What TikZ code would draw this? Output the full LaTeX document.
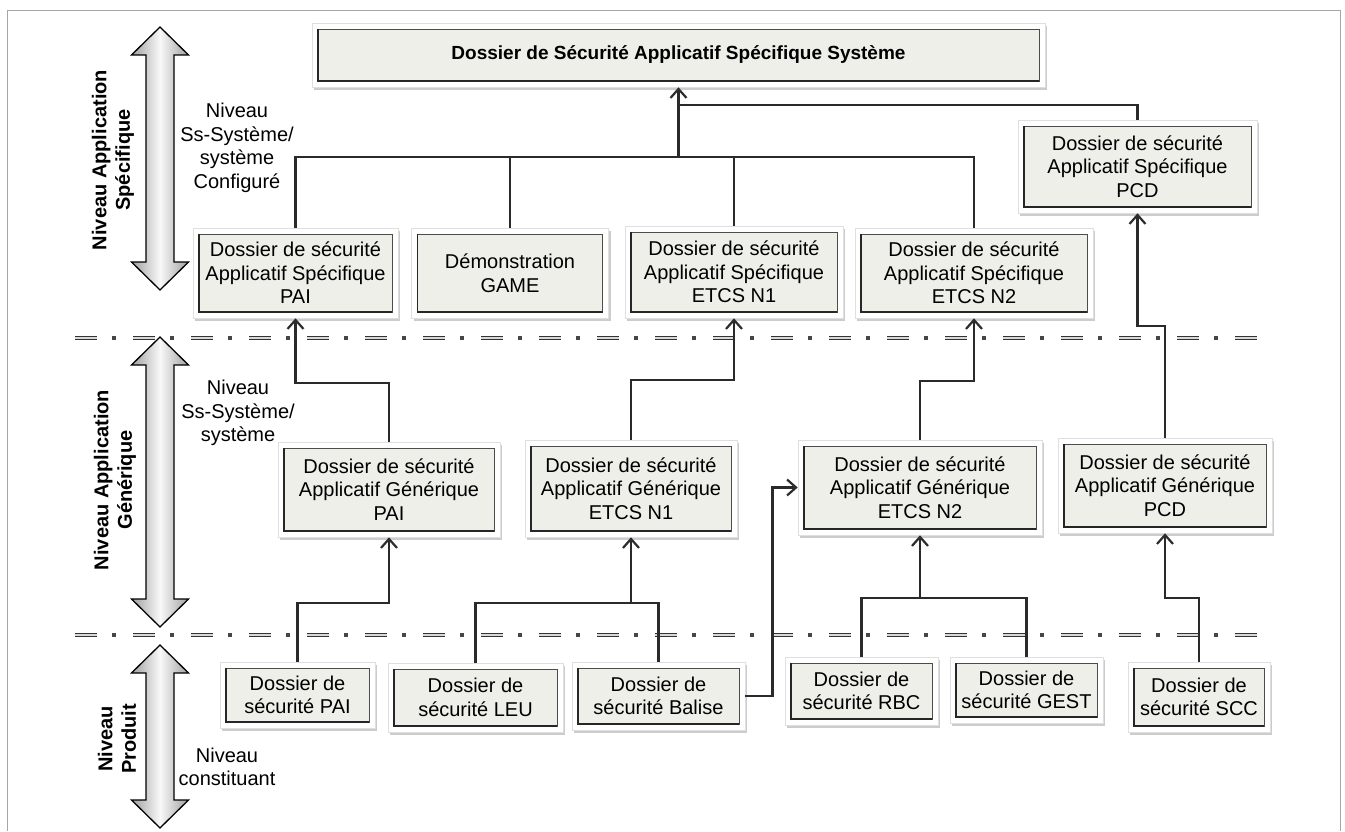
\documentclass[tikz,border=0pt]{standalone}
\usepackage{fontspec}
\setmainfont{Liberation Sans}
\usetikzlibrary{arrows.meta,shadows}
\definecolor{boxfill}{HTML}{EDEFE8}
\definecolor{linegray}{HTML}{2A2A2A}
\tikzset{
  box/.style={fill=white, draw=gray!25, line width=0.6pt, inner sep=0pt, align=center,
    font=\fontsize{20}{23.5}\selectfont,
    drop shadow={shadow xshift=2pt, shadow yshift=-3pt, fill=gray!80, opacity=0.5},
    path picture={\draw[fill=boxfill, draw=gray!60!black, line width=0.8pt]
      ([shift={(6pt,-6pt)}]path picture bounding box.north west) rectangle
      ([shift={(-6pt,6pt)}]path picture bounding box.south east);
      \draw[gray!30!black, line width=1.6pt]
      ([shift={(6pt,-6pt)}]path picture bounding box.north west) |-
      ([shift={(-6pt,6pt)}]path picture bounding box.south east);}},
  line/.style={draw=linegray, line width=2.4pt},
  arrow/.style={line, -{Straight Barb[length=9pt,width=16pt,line width=2.2pt,color=gray!35!black]}},
  levelline/.style={line width=0.7pt, draw=black!80, double=gray!30, double distance=2.4pt,
    dash pattern=on 22pt off 36pt},
  leveldot/.style={line width=4pt, draw=gray!55!black,
    dash pattern=on 0pt off 37pt on 4pt off 17pt},
  levelarrow/.style={draw=black, line width=1.3pt, left color=gray!75, right color=gray!75, middle color=gray!5},
  sidetitle/.style={font=\fontsize{20}{23.5}\selectfont\bfseries, align=center, rotate=90},
  sidenote/.style={font=\fontsize{20}{23.5}\selectfont, align=center}
}
\begin{document}
\begin{tikzpicture}[x=1pt,y=-1pt]
\useasboundingbox (0,0) rectangle (1345,832);
\draw[gray!70, line width=0.6pt] (7,831) |- (1340,10) -- (1340,831);

% niveaux
\foreach \ya/\yb in {27/290, 337/627, 645/828}
  \draw[levelarrow] (160,\ya) -- (188.5,\ya+28) -- (174,\ya+28) -- (174,\yb-28) -- (188.5,\yb-28)
    -- (160,\yb) -- (131.5,\yb-28) -- (146,\yb-28) -- (146,\ya+28) -- (131.5,\ya+28) -- cycle;
\foreach \yl in {338, 635} {
  \draw[levelline] (75,\yl) -- (1257,\yl);
  \draw[leveldot] (75,\yl) -- (1257,\yl);
}

\node[sidetitle] (tspec) at (113,160) {Niveau Application\\Spécifique};
\node[sidetitle] (tgen) at (115,480) {Niveau Application\\Générique};
\node[sidetitle] (tprod) at (117,739) {Niveau\\Produit};
\node[sidenote] (nspec) at (237,148) {Niveau\\Ss-Système/\\système\\Configuré};
\node[sidenote] (ngen) at (238,413) {Niveau\\Ss-Système/\\système};
\node[sidenote] (nprod) at (227,767) {Niveau\\constituant};

% niveau application specifique
\node[box, minimum width=733, minimum height=64, font=\fontsize{19}{23}\selectfont\bfseries] (top) at (678.5,55)
  {Dossier de Sécurité Applicatif Spécifique Système};
\node[box, minimum width=205, minimum height=90] (sPAI) at (295.5,273) {Dossier de sécurité\\Applicatif Spécifique\\PAI};
\node[box, minimum width=197, minimum height=90] (sGAME) at (510,273) {Démonstration\\GAME};
\node[box, minimum width=218, minimum height=92] (sN1) at (734,272) {Dossier de sécurité\\Applicatif Spécifique\\ETCS N1};
\node[box, minimum width=238, minimum height=90] (sN2) at (974,273) {Dossier de sécurité\\Applicatif Spécifique\\ETCS N2};
\node[box, minimum width=239, minimum height=93] (sPCD) at (1137.5,166.5) {Dossier de sécurité\\Applicatif Spécifique\\PCD};

% niveau application generique
\node[box, minimum width=222, minimum height=95] (gPAI) at (389,489.5) {Dossier de sécurité\\Applicatif Générique\\PAI};
\node[box, minimum width=212, minimum height=97] (gN1) at (631,488.5) {Dossier de sécurité\\Applicatif Générique\\ETCS N1};
\node[box, minimum width=244, minimum height=95] (gN2) at (920,487.5) {Dossier de sécurité\\Applicatif Générique\\ETCS N2};
\node[box, minimum width=214, minimum height=95] (gPCD) at (1165,485.5) {Dossier de sécurité\\Applicatif Générique\\PCD};

% niveau produit
\node[box, minimum width=155, minimum height=66] (pPAI) at (297.5,695) {Dossier de\\sécurité PAI};
\node[box, minimum width=175, minimum height=69] (pLEU) at (475.5,697.5) {Dossier de\\sécurité LEU};
\node[box, minimum width=173, minimum height=68] (pBAL) at (658.5,696) {Dossier de\\sécurité Balise};
\node[box, minimum width=153, minimum height=68] (pRBC) at (861.5,691) {Dossier de\\sécurité RBC};
\node[box, minimum width=153, minimum height=66] (pGEST) at (1026.5,690) {Dossier de\\sécurité GEST};
\node[box, minimum width=142, minimum height=70] (pSCC) at (1199,697) {Dossier de\\sécurité SCC};

% liens vers le dossier systeme
\coordinate (bus) at (678.5,157);
\coordinate (pcdjoin) at (678.5,105);
\draw[line] (sPAI.north) |- (bus) -| (sN2.north);
\draw[line] (sGAME.north) -- (sGAME.north |- bus);
\draw[line] (sN1.north) -- (sN1.north |- bus);
\draw[arrow] (bus) -- (top.south);
\draw[line] (pcdjoin) -| (sPCD.north);

% generique -> specifique
\draw[arrow] (gPAI.north) -- ++(0,-59) -| (sPAI.south);
\draw[arrow] (gN1.north) -- ++(0,-60) -| (sN1.south);
\draw[arrow] (gN2.north) -- ++(0,-59) -| (sN2.south);
\draw[arrow] (gPCD.north) -- ++(0,-112) -| (sPCD.south);

% produit -> generique
\draw[arrow] (pPAI.north) -- ++(0,-59) -| (gPAI.south);
\draw[line] (pLEU.north) -- ++(0,-60) -| (pBAL.north);
\draw[arrow] (gN1.south) ++(0,66) -- (gN1.south);
\draw[arrow] (pBAL.east) -- ++(27,0) |- (gN2.west);
\draw[line] (pRBC.north) -- ++(0,-59) -| (pGEST.north);
\draw[arrow] (gN2.south) ++(0,63) -- (gN2.south);
\draw[arrow] (pSCC.north) -- ++(0,-64) -| (gPCD.south);
\end{tikzpicture}
\end{document}
